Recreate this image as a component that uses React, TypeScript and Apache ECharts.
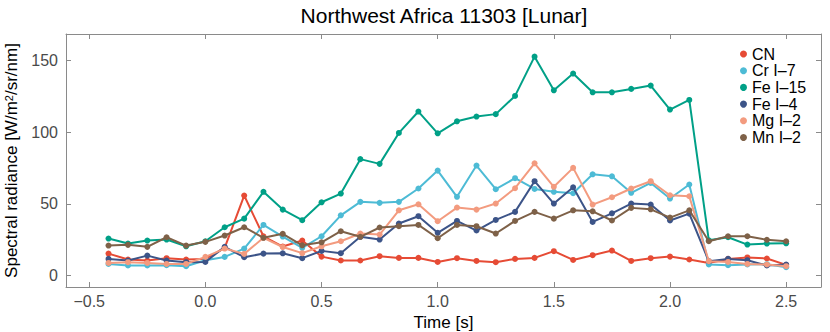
import React, { useEffect, useRef } from "react";
import * as echarts from "echarts";

const times = [
  -0.417, -0.333, -0.25, -0.167, -0.083, 0, 0.083, 0.167, 0.25, 0.333, 0.417, 0.5,
  0.583, 0.667, 0.75, 0.833, 0.917, 1.0, 1.083, 1.167, 1.25, 1.333, 1.417, 1.5,
  1.583, 1.667, 1.75, 1.833, 1.917, 2.0, 2.083, 2.167, 2.25, 2.333, 2.417, 2.5,
];

const cn = [15.3, 11.2, 10.5, 12.1, 11.2, 11.6, 19.3, 55.8, 27.4, 20.2, 24.4, 13.2, 10.5, 10.5, 13.5, 12.3, 12.3, 9.5, 12.1, 10.2, 9.3, 11.6, 12.3, 17, 10.9, 14.2, 17.4, 10.2, 12.1, 13.2, 11.2, 8.8, 11.6, 12.6, 11.9, 7.4];
const cr7 = [8.1, 7, 7, 7.2, 6.5, 10.7, 13, 18.8, 35.3, 27.2, 19.3, 27.4, 42, 51.4, 50.7, 51.4, 60.7, 73.2, 54.9, 76.7, 60.2, 67.9, 60.4, 58.4, 57.4, 70.6, 69.2, 57.7, 64.6, 53.7, 63.5, 7.7, 7.2, 7.7, 7.9, 5.8];
const fe15 = [25.8, 22.3, 24.4, 25.1, 20.4, 23.9, 33.7, 39.7, 58.4, 46, 38.6, 51.1, 57.2, 81.2, 77.9, 99.5, 114.4, 99.2, 107.6, 110.9, 112.6, 125.3, 152.7, 129.2, 140.9, 127.8, 127.8, 130.2, 132.5, 115.8, 122.5, 24.6, 26.7, 21.6, 22.3, 22.5];
const fe4 = [11.6, 10.5, 13.9, 10.5, 9.3, 9.5, 20, 12.8, 15.3, 15.5, 12.1, 17.2, 15.6, 27, 25.1, 36.3, 41.4, 29.8, 38.1, 31.4, 38.8, 44.4, 65.8, 50.2, 61.6, 37.4, 43.4, 50.2, 49.5, 38.4, 43.2, 10, 11.6, 10.7, 7, 7.7];
const mg2 = [8.8, 9.3, 8.8, 8.1, 8.1, 13, 18.8, 15.1, 26.3, 19.9, 15.6, 20.4, 23.9, 29.3, 28.6, 45.5, 49.7, 37.9, 47.4, 46, 50.2, 60.9, 78.3, 61.9, 75.1, 49.5, 54.6, 60.7, 65.8, 56, 55.3, 10, 9.5, 8.1, 7.7, 6.5];
const mn2 = [20.9, 21.4, 20, 26.7, 20.9, 23.5, 27.9, 33.7, 26.3, 29.1, 21.1, 23.2, 30.9, 27, 33.5, 34.4, 35.3, 26, 35.3, 34.4, 29.3, 38.1, 44.4, 39.7, 45.5, 44.8, 38.4, 47.2, 46.2, 40.4, 45.5, 23.9, 27.4, 27.4, 24.9, 23.9];

const seriesNames = ["CN", "Cr I\u20137", "Fe I\u201315", "Fe I\u20134", "Mg I\u20132", "Mn I\u20132"];
const seriesValues = [cn, cr7, fe15, fe4, mg2, mn2];
const colors = ["#E64B35", "#4DBBD5", "#00A087", "#3C5488", "#F39B7F", "#7E6148"];

const xTicks = [-0.5, 0, 0.5, 1.0, 1.5, 2.0, 2.5];
const yTicks = [0, 50, 100, 150];

const FONT = "Liberation Sans";
const frameColor = "#8a8a8a";
const labelColor = "#4a4a4a";

export default function App() {
  const ref = useRef<HTMLDivElement>(null);
  useEffect(() => {
    if (!ref.current) return;
    const chart = echarts.init(ref.current, null, { renderer: "svg" });
    const axisCommon = {
      axisLine: { show: true, onZero: false, lineStyle: { color: frameColor, width: 1 } },
      splitLine: { show: false },
    };
    const fmtX = (v: number) => {
      const s = Math.abs(v).toFixed(1);
      return v < 0 ? "\u2212" + s : s;
    };
    chart.setOption({
      animation: false,
      backgroundColor: "#ffffff",
      title: {
        text: "Northwest Africa 11303 [Lunar]",
        left: 444,
        top: 5,
        padding: 0,
        textAlign: "center",
        textStyle: { fontFamily: FONT, fontSize: 21, fontWeight: "normal", color: "#000" },
      },
      legend: {
        orient: "vertical",
        left: 740,
        top: 46,
        padding: 0,
        icon: "circle",
        itemWidth: 7,
        itemHeight: 7,
        itemGap: 0.7,
        textStyle: { fontFamily: FONT, fontSize: 16, color: "#000", lineHeight: 16 },
        data: seriesNames,
      },
      grid: { left: 66, right: 9, top: 34, bottom: 45, containLabel: false, outerBoundsMode: "none" },
      xAxis: [
        {
          type: "value",
          min: -0.6,
          max: 2.65,
          position: "bottom",
          ...axisCommon,
          axisTick: { show: true, inside: true, length: 5, customValues: xTicks, lineStyle: { color: frameColor } },
          axisLabel: {
            show: true,
            customValues: xTicks,
            formatter: fmtX,
            margin: 6,
            fontFamily: FONT,
            fontSize: 16,
            color: labelColor,
          },
          name: "Time [s]",
          nameLocation: "middle",
          nameGap: 23,
          nameTextStyle: { fontFamily: FONT, fontSize: 17, color: "#000" },
        },
        {
          type: "value",
          min: -0.6,
          max: 2.65,
          position: "top",
          ...axisCommon,
          axisTick: { show: true, inside: true, length: 5, customValues: xTicks, lineStyle: { color: frameColor } },
          axisLabel: { show: false },
        },
      ],
      yAxis: [
        {
          type: "value",
          min: -8,
          max: 168.5,
          position: "left",
          ...axisCommon,
          axisTick: { show: true, inside: true, length: 5, customValues: yTicks, lineStyle: { color: frameColor } },
          axisLabel: {
            show: true,
            customValues: yTicks,
            margin: 8,
            fontFamily: FONT,
            fontSize: 16,
            color: labelColor,
          },
          name: "Spectral radiance [W/m{sup|2}/sr/nm]",
          nameLocation: "middle",
          nameGap: 45,
          nameRotate: 90,
          nameTextStyle: {
            fontFamily: FONT,
            fontSize: 17,
            color: "#000",
            rich: {
              sup: { fontFamily: FONT, fontSize: 11, color: "#000", verticalAlign: "top", lineHeight: 12 },
            },
          },
        },
        {
          type: "value",
          min: -8,
          max: 168.5,
          position: "right",
          ...axisCommon,
          axisTick: { show: true, inside: true, length: 5, customValues: yTicks, lineStyle: { color: frameColor } },
          axisLabel: { show: false },
        },
      ],
      series: seriesNames.map((name, i) => ({
        name,
        type: "line",
        xAxisIndex: 0,
        yAxisIndex: 0,
        data: times.map((t, j) => [t, seriesValues[i][j]]),
        symbol: "circle",
        symbolSize: 6,
        showSymbol: true,
        lineStyle: { width: 2, color: colors[i] },
        itemStyle: { color: colors[i] },
        color: colors[i],
        z: 2 + i,
      })),
    });
    return () => chart.dispose();
  }, []);
  return (
    <div
      ref={ref}
      style={{ position: "absolute", left: 0, top: 0, width: 830, height: 332 }}
    />
  );
}
